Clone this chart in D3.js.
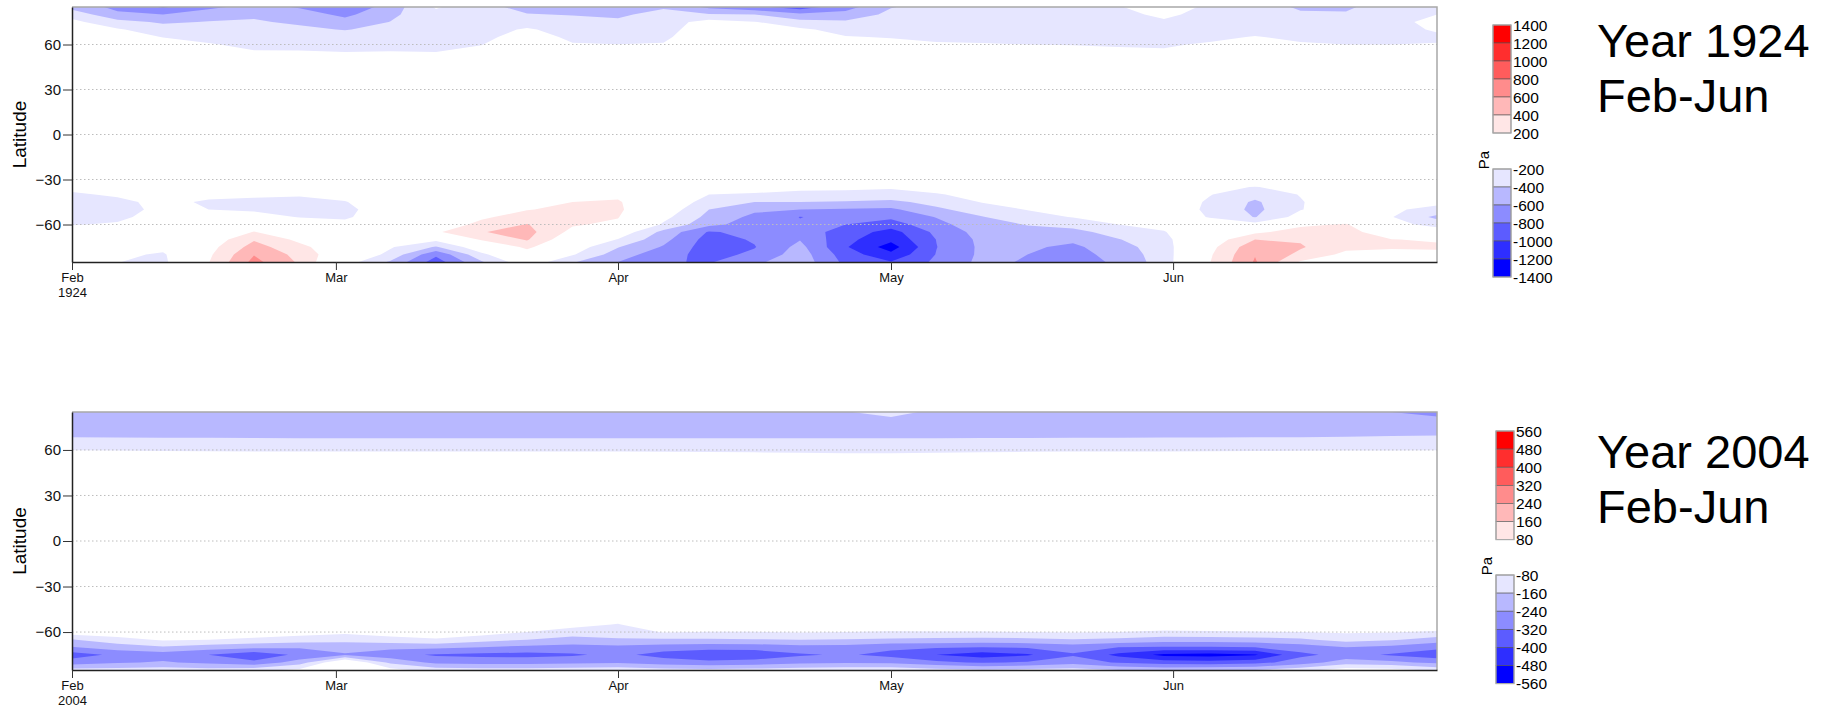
<!DOCTYPE html>
<html>
<head>
<meta charset="utf-8">
<script src="https://cdn.jsdelivr.net/npm/d3@7"></script>
<style>
  body { margin: 0; background: #fff; }
  svg { display: block; font-family: "Liberation Sans", Arial, sans-serif; }
  .axis text { font-family: "Liberation Sans Narrow", "Liberation Sans", Arial, sans-serif; fill: #111; }
</style>
</head>
<body>
<svg id="chart" width="1825" height="709"></svg>
<script>
// grid columns: days since Feb 1 (5-day steps up to Jun 30)
const days = [0,5,10,15,20,25,30,35,40,45,50,55,60,65,70,75,80,85,90,95,100,105,110,115,120,125,130,135,140,145,150];
// grid rows: latitude (the quiet band between -30 and 45 is left out)
const lats = [-85,-80,-75,-70,-65,-60,-55,-50,-45,-40,-35,-30,45,50,55,60,65,70,75,80,85];

const latTicks = [-60, -30, 0, 30, 60];
const monthNames = ["Feb", "Mar", "Apr", "May", "Jun"];

const levels1924 = [200, 400, 600, 800, 1000, 1200, 1400];
const levels2004 = [80, 160, 240, 320, 400, 480, 560];

const redShades  = ["#ffe6e6", "#ffb8b8", "#ff8c8c", "#ff5c5c", "#ff2e2e", "#ff0000"];
const blueShades = ["#e6e6ff", "#b8b8ff", "#8c8cff", "#5c5cff", "#2e2eff", "#0000ff"];

// pressure anomaly (Pa), one row per latitude in `lats`, one value per column in `days`
const z1924 = [
  [40,-195,-250,190,660,370,-100,-430,-900,-420,-50,-380,-600,-780,-820,-640,-480,-850,-990,-760,-550,-620,-700,-560,-300,190,620,180,80,50,60],
  [20,-150,-230,160,590,330,20,-260,-760,-250,80,-180,-500,-720,-870,-760,-500,-900,-1150,-790,-560,-600,-680,-520,-300,170,590,350,150,120,150],
  [-20,-80,-130,120,480,260,20,-180,-420,-50,250,-80,-390,-620,-900,-810,-540,-980,-1290,-805,-560,-570,-640,-480,-290,130,540,420,250,230,230],
  [-80,-60,-40,60,380,150,-20,-100,-150,230,420,20,-210,-540,-880,-780,-610,-940,-1150,-795,-550,-530,-560,-410,-260,60,400,380,320,205,180],
  [-150,-120,-80,-30,210,0,-100,-70,170,390,470,140,-50,-460,-820,-740,-700,-880,-1080,-750,-520,-470,-460,-320,-210,-30,150,300,290,40,-60],
  [-205,-190,-130,-100,40,-120,-170,-100,80,250,410,220,160,-230,-540,-700,-780,-800,-900,-660,-480,-390,-330,-200,-150,-120,-120,150,220,-120,-280],
  [-225,-220,-160,-160,-160,-205,-215,-130,20,170,280,260,210,-140,-460,-650,-805,-740,-760,-590,-410,-280,-190,-130,-90,-210,-410,-120,40,-190,-450],
  [-240,-235,-175,-200,-215,-230,-225,-140,-30,60,190,250,240,-60,-400,-560,-600,-620,-640,-440,-300,-190,-150,-90,-60,-240,-450,-210,-60,-170,-260],
  [-240,-225,-170,-215,-225,-230,-205,-130,-40,0,120,200,220,0,-300,-400,-400,-420,-450,-330,-190,-160,-110,-60,-40,-230,-430,-215,-50,-100,-150],
  [-215,-185,-130,-170,-180,-190,-170,-100,-40,-20,40,100,160,20,-200,-210,-230,-240,-260,-210,-160,-110,-70,-40,-20,-190,-330,-190,-20,-40,-60],
  [-170,-120,-80,-100,-110,-120,-110,-60,-20,0,0,20,50,0,-140,-160,-170,-170,-180,-150,-100,-60,-30,-20,0,-130,-210,-110,0,0,0],
  [0,0,0,0,0,0,0,0,0,0,0,0,0,0,0,0,0,0,0,0,0,0,0,0,0,0,0,0,0,0,0],
  [0,0,0,0,0,0,0,0,0,0,0,0,0,0,0,0,0,0,0,0,0,0,0,0,0,0,0,0,0,0,0],
  [0,0,-10,-30,-100,-100,-100,-100,-100,-60,0,-50,-60,-50,0,0,0,-20,-30,-50,-50,-60,-70,-80,-80,-50,-20,-50,-60,-60,-60],
  [0,-20,-50,-100,-190,-190,-200,-195,-200,-150,-40,-120,-130,-120,-20,-30,-30,-60,-80,-120,-130,-140,-160,-180,-190,-120,-60,-120,-130,-130,-130],
  [-30,-60,-120,-190,-230,-240,-250,-240,-230,-205,-80,-190,-198,-190,-50,-60,-70,-120,-150,-190,-195,-200,-205,-210,-210,-190,-130,-190,-200,-200,-195],
  [-60,-120,-205,-240,-260,-280,-320,-290,-260,-240,-130,-230,-240,-230,-80,-90,-120,-190,-210,-220,-220,-220,-220,-225,-230,-220,-195,-220,-220,-215,-215],
  [-100,-180,-300,-300,-300,-360,-410,-340,-280,-270,-180,-270,-300,-260,-100,-130,-170,-260,-250,-240,-240,-240,-240,-240,-240,-240,-230,-250,-250,-230,-190],
  [-150,-330,-430,-390,-380,-430,-520,-395,-290,-300,-280,-330,-370,-300,-120,-190,-330,-370,-300,-270,-270,-270,-250,-250,-220,-250,-260,-300,-290,-230,-170],
  [-270,-560,-600,-480,-430,-500,-650,-440,-260,-320,-390,-410,-430,-340,-380,-400,-560,-530,-350,-300,-300,-290,-260,-240,-170,-250,-290,-380,-380,-260,-200],
  [-480,-650,-820,-650,-520,-620,-780,-500,-180,-330,-470,-480,-480,-420,-640,-750,-900,-680,-410,-330,-330,-310,-270,-210,-120,-230,-330,-420,-430,-300,-260]
];

const z2004 = [
  [-130,-130,-120,-130,-110,-60,40,-50,-120,-130,-130,-120,-110,-130,-140,-130,-120,-110,-100,-130,-150,-140,-130,-160,-180,-170,-160,-110,-40,-50,-100],
  [-280,-250,-230,-260,-300,-200,20,-180,-260,-270,-270,-260,-250,-280,-300,-290,-260,-250,-260,-300,-330,-310,-270,-330,-360,-370,-350,-280,-200,-220,-260],
  [-360,-300,-280,-320,-380,-300,-250,-290,-330,-340,-345,-330,-300,-350,-380,-370,-330,-310,-345,-400,-440,-410,-330,-420,-500,-510,-490,-340,-290,-330,-370],
  [-245,-200,-170,-200,-220,-230,-200,-220,-220,-240,-260,-270,-260,-280,-290,-290,-270,-270,-300,-310,-320,-310,-280,-320,-330,-330,-320,-280,-240,-260,-300],
  [-165,-110,-70,-80,-100,-120,-140,-110,-90,-130,-160,-190,-170,-170,-170,-165,-160,-165,-175,-180,-185,-180,-165,-180,-200,-200,-190,-175,-130,-150,-200],
  [-30,-20,-10,-15,-20,-40,-60,-40,-20,-40,-80,-120,-120,-75,-82,-82,-75,-80,-85,-85,-85,-80,-75,-80,-95,-90,-85,-80,-70,-75,-90],
  [0,0,0,0,0,0,-5,0,0,0,-20,-50,-85,-10,0,0,0,0,-30,-20,-20,-15,-10,-15,-20,-15,-15,-10,-10,-10,-10],
  [0,0,0,0,0,0,0,0,0,0,0,0,-30,0,0,0,0,0,0,0,0,0,0,0,0,0,0,0,0,0,0],
  [0,0,0,0,0,0,0,0,0,0,0,0,0,0,0,0,0,0,0,0,0,0,0,0,0,0,0,0,0,0,0],
  [0,0,0,0,0,0,0,0,0,0,0,0,0,0,0,0,0,0,0,0,0,0,0,0,0,0,0,0,0,0,0],
  [0,0,0,0,0,0,0,0,0,0,0,0,0,0,0,0,0,0,0,0,0,0,0,0,0,0,0,0,0,0,0],
  [0,0,0,0,0,0,0,0,0,0,0,0,0,0,0,0,0,0,0,0,0,0,0,0,0,0,0,0,0,0,0],
  [0,0,0,0,0,0,0,0,0,0,0,0,0,0,0,0,0,0,0,0,0,0,0,0,0,0,0,0,0,0,0],
  [-10,-10,-10,-10,-10,-10,-12,-12,-12,-12,-12,-12,-12,-12,-12,-14,-15,-16,-16,-15,-14,-12,-12,-12,-12,-12,-12,-10,-10,-10,-10],
  [-38,-39,-40,-41,-42,-42,-42,-42,-42,-42,-42,-42,-42,-43,-44,-45,-46,-48,-48,-46,-45,-44,-42,-42,-42,-41,-40,-40,-39,-38,-38],
  [-82,-84,-86,-88,-90,-90,-90,-90,-90,-90,-90,-90,-90,-92,-94,-96,-100,-105,-106,-100,-95,-92,-90,-90,-90,-88,-86,-85,-84,-83,-82],
  [-135,-136,-137,-138,-139,-140,-140,-140,-140,-140,-140,-140,-140,-141,-142,-143,-144,-145,-146,-146,-146,-145,-145,-145,-145,-145,-144,-143,-142,-141,-140],
  [-172,-173,-174,-175,-176,-177,-177,-178,-178,-178,-178,-178,-177,-176,-175,-174,-173,-172,-172,-172,-171,-171,-170,-170,-169,-168,-168,-168,-166,-164,-162],
  [-196,-195,-194,-195,-196,-198,-197,-196,-196,-197,-198,-199,-198,-196,-195,-194,-193,-192,-190,-192,-193,-194,-195,-195,-196,-197,-197,-198,-200,-202,-205],
  [-206,-205,-204,-205,-206,-208,-206,-205,-204,-205,-206,-207,-206,-205,-204,-203,-202,-190,-175,-195,-202,-204,-205,-205,-206,-207,-208,-208,-210,-220,-225],
  [-212,-210,-208,-210,-212,-215,-212,-210,-208,-210,-212,-214,-212,-210,-208,-206,-205,-165,-130,-180,-205,-208,-210,-210,-212,-214,-215,-216,-220,-240,-262]
];

const svg = d3.select("#chart");
const plotLeft = 72, plotRight = 1437;

const panels = [
  { year: 1924, z: z1924, levels: levels1924, top: 7, bottom: 262,
    legendX: 1493, redTop: 25, blueTop: 169, boxH: 18, paY: 160, titleY: 57 },
  { year: 2004, z: z2004, levels: levels2004, top: 412, bottom: 670,
    legendX: 1496, redTop: 431, blueTop: 575, boxH: 18.1, paY: 566, titleY: 468 }
];

panels.forEach((p, idx) => {
  const t0 = Date.UTC(p.year, 1, 1);
  const x = d3.scaleUtc()
      .domain([new Date(t0), new Date(Date.UTC(p.year, 5, 30))])
      .range([plotLeft, plotRight]);
  const y = d3.scaleLinear().domain([-85, 85]).range([p.bottom, p.top]);

  const g = svg.append("g");
  const clipId = "clip" + idx;
  g.append("clipPath").attr("id", clipId)
    .append("rect")
    .attr("x", plotLeft).attr("y", p.top)
    .attr("width", plotRight - plotLeft).attr("height", p.bottom - p.top);

  // contour fills, worked out in grid space and then mapped through the scales
  const n = days.length, m = lats.length;
  const values = p.z.flat();
  const dayAt = d3.scaleLinear().domain(d3.range(n)).range(days);
  const latAt = d3.scaleLinear().domain(d3.range(m)).range(lats);
  const proj = c => {
    const fi = Math.max(0, Math.min(n - 1, c[0] - 0.5));
    const fj = Math.max(0, Math.min(m - 1, c[1] - 0.5));
    return [x(new Date(t0 + dayAt(fi) * 864e5)), y(latAt(fj))];
  };
  const toScreen = geo => ({
    type: "MultiPolygon",
    coordinates: geo.coordinates.map(poly => poly.map(ring => ring.map(proj)))
  });
  const path = d3.geoPath();
  const contours = d3.contours().size([n, m]).thresholds(p.levels.slice(0, 6));

  const fills = g.append("g").attr("clip-path", `url(#${clipId})`);
  fills.selectAll("path.neg")
    .data(contours(values.map(v => -v)))
    .join("path").attr("class", "neg")
    .attr("d", c => path(toScreen(c)))
    .attr("fill", (c, i) => blueShades[i]);
  fills.selectAll("path.pos")
    .data(contours(values))
    .join("path").attr("class", "pos")
    .attr("d", c => path(toScreen(c)))
    .attr("fill", (c, i) => redShades[i]);

  // dotted latitude grid
  g.append("g").selectAll("line")
    .data(latTicks)
    .join("line")
    .attr("x1", plotLeft).attr("x2", plotRight)
    .attr("y1", d => y(d)).attr("y2", d => y(d))
    .attr("stroke", "#bdbdbd").attr("stroke-width", 1)
    .attr("stroke-dasharray", "1.5,2.5");

  // light frame top and right
  g.append("path")
    .attr("d", `M${plotLeft},${p.top}H${plotRight}V${p.bottom}`)
    .attr("fill", "none").attr("stroke", "#a8a8a8").attr("stroke-width", 1.5);

  // axes
  const yAxis = g.append("g").attr("class", "axis")
    .attr("transform", `translate(${plotLeft},0)`)
    .call(d3.axisLeft(y).tickValues(latTicks).tickSize(9).tickPadding(2).tickSizeOuter(0));
  yAxis.selectAll("text").style("font-size", "15px");

  const months = monthNames.map((mn, i) => new Date(Date.UTC(p.year, 1 + i, 1)));
  const xAxis = g.append("g").attr("class", "axis")
    .attr("transform", `translate(0,${p.bottom})`)
    .call(d3.axisBottom(x).tickValues(months).tickSize(8).tickPadding(3).tickSizeOuter(0)
      .tickFormat((d, i) => monthNames[i]));
  xAxis.selectAll("text").style("font-size", "13px");
  xAxis.select(".tick text")
    .append("tspan").attr("x", 0).attr("dy", "1.15em").text(p.year);

  g.selectAll(".axis .domain").attr("stroke", "#222").attr("stroke-width", 1.5);
  g.selectAll(".axis .tick line").attr("stroke", "#333");

  g.append("text")
    .attr("transform", `translate(19,${(p.top + p.bottom) / 2}) rotate(-90)`)
    .attr("text-anchor", "middle").attr("dy", "0.35em")
    .style("font-size", "19px")
    .text("Latitude");

  // colour bars
  const bw = 18, lx = p.legendX;
  const leg = g.append("g");
  const redTopDown = redShades.slice().reverse();
  const redLabels = p.levels.slice().reverse();
  leg.selectAll("rect.r").data(redTopDown).join("rect").attr("class", "r")
    .attr("x", lx).attr("y", (c, i) => p.redTop + i * p.boxH)
    .attr("width", bw).attr("height", p.boxH)
    .attr("fill", c => c).attr("stroke", "#555").attr("stroke-width", 0.6);
  leg.append("rect").attr("x", lx).attr("y", p.redTop)
    .attr("width", bw).attr("height", 6 * p.boxH)
    .attr("fill", "none").attr("stroke", "#aaa").attr("stroke-width", 1.2);
  leg.selectAll("text.r").data(redLabels).join("text").attr("class", "r")
    .attr("x", lx + bw + 2).attr("y", (d, i) => p.redTop + i * p.boxH)
    .attr("dy", "0.36em").style("font-size", "15.5px")
    .text(d => d);

  leg.selectAll("rect.b").data(blueShades).join("rect").attr("class", "b")
    .attr("x", lx).attr("y", (c, i) => p.blueTop + i * p.boxH)
    .attr("width", bw).attr("height", p.boxH)
    .attr("fill", c => c).attr("stroke", "#555").attr("stroke-width", 0.6);
  leg.append("rect").attr("x", lx).attr("y", p.blueTop)
    .attr("width", bw).attr("height", 6 * p.boxH)
    .attr("fill", "none").attr("stroke", "#aaa").attr("stroke-width", 1.2);
  leg.selectAll("text.b").data(p.levels).join("text").attr("class", "b")
    .attr("x", lx + bw + 2).attr("y", (d, i) => p.blueTop + i * p.boxH)
    .attr("dy", "0.36em").style("font-size", "15.5px")
    .text(d => "-" + d);

  leg.append("text")
    .attr("transform", `translate(${lx - 9},${p.paY}) rotate(-90)`)
    .attr("text-anchor", "middle").attr("dy", "0.35em")
    .style("font-size", "15px").text("Pa");

  // title
  const title = g.append("text").attr("x", 1597).attr("y", p.titleY).style("font-size", "47px");
  title.append("tspan").attr("x", 1597).text("Year " + p.year);
  title.append("tspan").attr("x", 1597).attr("dy", 55).text("Feb-Jun");
});
</script>
</body>
</html>
